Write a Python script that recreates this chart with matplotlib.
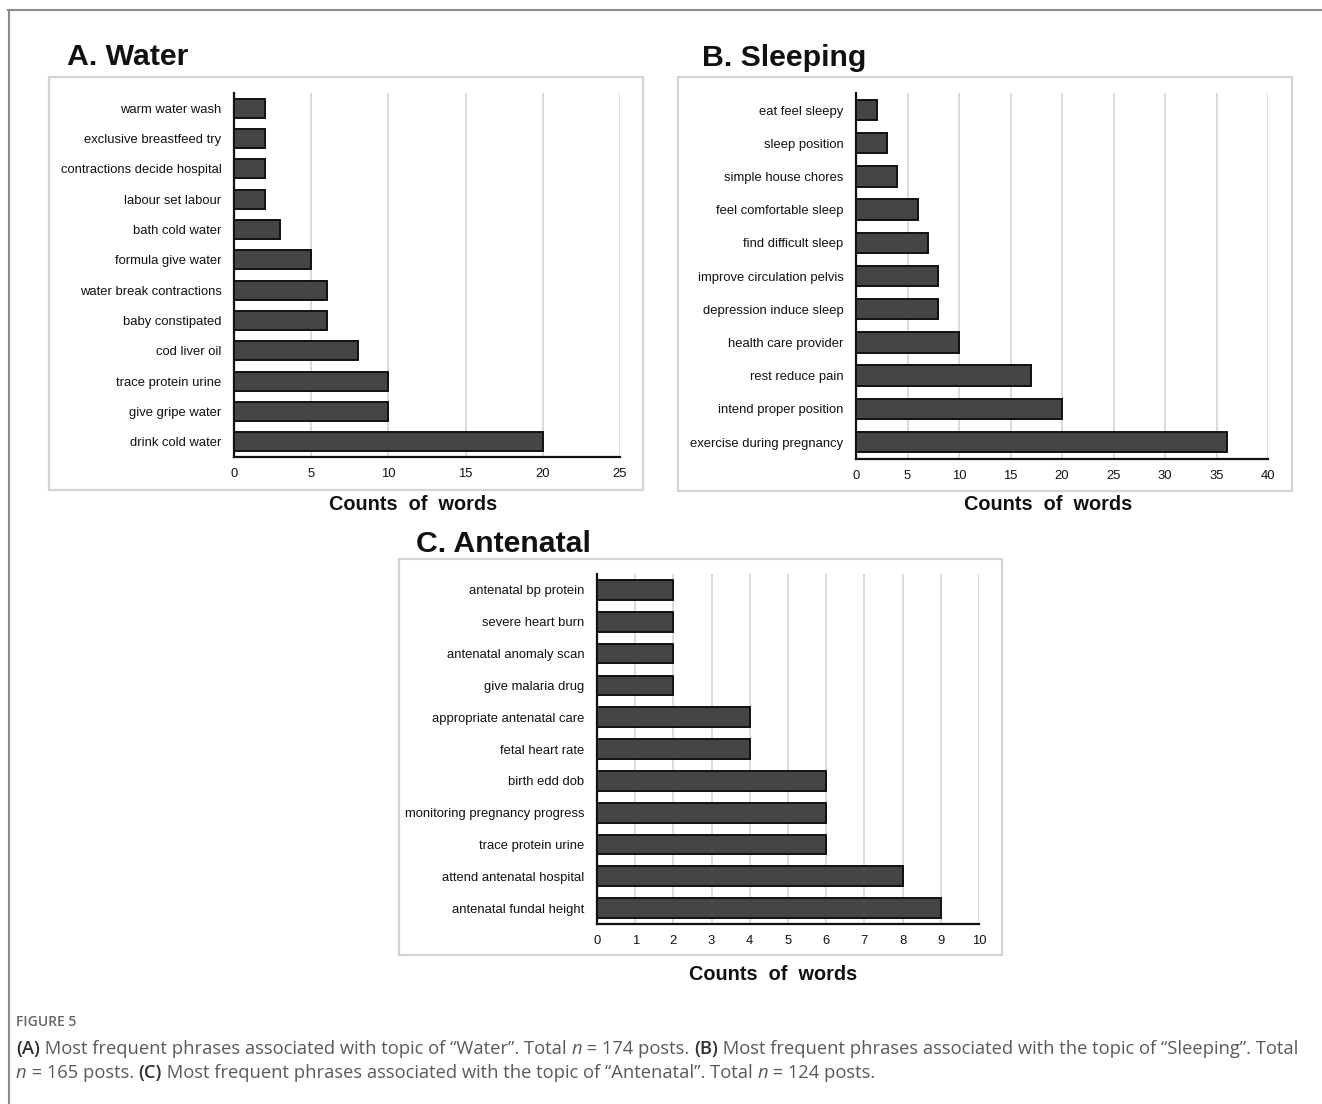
import matplotlib
matplotlib.use("Agg")
import matplotlib.pyplot as plt
from matplotlib.patches import Rectangle
from matplotlib.lines import Line2D

W, H = 1322, 1104

water_labels = ["warm water wash", "exclusive breastfeed try", "contractions decide hospital",
                "labour set labour", "bath cold water", "formula give water",
                "water break contractions", "baby constipated", "cod liver oil",
                "trace protein urine", "give gripe water", "drink cold water"]
water_values = [2, 2, 2, 2, 3, 5, 6, 6, 8, 10, 10, 20]
water_ticks = [0, 5, 10, 15, 20, 25]

sleep_labels = ["eat feel sleepy", "sleep position", "simple house chores",
                "feel comfortable sleep", "find difficult sleep", "improve circulation pelvis",
                "depression induce sleep", "health care provider", "rest reduce pain",
                "intend proper position", "exercise during pregnancy"]
sleep_values = [2, 3, 4, 6, 7, 8, 8, 10, 17, 20, 36]
sleep_ticks = [0, 5, 10, 15, 20, 25, 30, 35, 40]

ante_labels = ["antenatal bp protein", "severe heart burn", "antenatal anomaly scan",
               "give malaria drug", "appropriate antenatal care", "fetal heart rate",
               "birth edd dob", "monitoring pregnancy progress", "trace protein urine",
               "attend antenatal hospital", "antenatal fundal height"]
ante_values = [2, 2, 2, 2, 4, 4, 6, 6, 6, 8, 9]
ante_ticks = list(range(0, 11))

titles = ["A. Water", "B. Sleeping", "C. Antenatal"]
xlabel = "Counts  of  words"

fig = plt.figure(figsize=(W / 100, H / 100), dpi=100)
CF = "Liberation Sans"


def fx(x):
    return x / W


def fy(y):
    return 1 - y / H


def add_axes_px(l, t, r, b):
    return fig.add_axes([fx(l), fy(b), (r - l) / W, (b - t) / H])


def frame_px(l, t, r, b):
    fig.add_artist(Rectangle((fx(l), fy(b)), (r - l) / W, (b - t) / H,
                             transform=fig.transFigure, fill=False,
                             edgecolor="#d4d4d4", linewidth=1.6))


def panel(ax_box, frame_box, title_xy, xlab_xy, labels, values, ticks, title):
    frame_px(*frame_box)
    ax = add_axes_px(*ax_box)
    n = len(labels)
    ypos = list(range(n))
    ax.barh(ypos, values, height=0.62, color="#454545", edgecolor="#111111",
            linewidth=1.4, zorder=3)
    ax.set_ylim(n - 0.5, -0.5)
    ax.set_xlim(ticks[0], ticks[-1])
    ax.set_yticks(ypos)
    ax.set_yticklabels(labels, fontsize=9.4, family=CF, color="#111111")
    ax.set_xticks(ticks)
    ax.set_xticklabels([str(t) for t in ticks], fontsize=9.4, family=CF, color="#111111")
    ax.tick_params(axis="both", length=0)
    ax.tick_params(axis="y", pad=9)
    ax.tick_params(axis="x", pad=8)
    for s in ["top", "right"]:
        ax.spines[s].set_visible(False)
    ax.spines["left"].set_color("#111111")
    ax.spines["bottom"].set_color("#111111")
    ax.spines["left"].set_linewidth(1.6)
    ax.spines["bottom"].set_linewidth(1.6)
    ax.xaxis.grid(True, color="#d9d9d9", linewidth=1.3, zorder=0)
    ax.set_axisbelow(True)
    ax.set_facecolor("none")
    fig.text(fx(title_xy[0]), fy(title_xy[1]), title, fontsize=21.8, fontweight="bold",
             family=CF, ha="left", va="center", color="#111111")
    fig.text(fx(xlab_xy[0]), fy(xlab_xy[1]), xlabel, fontsize=14.3, fontweight="bold",
             family=CF, ha="center", va="center", color="#111111")
    return ax


panel((234, 93, 620, 457), (49, 77, 643, 490), (67, 57), (413, 505),
      water_labels, water_values, water_ticks, titles[0])
panel((856, 93.4, 1268, 458.6), (678, 77, 1292, 491), (702, 58), (1048, 505),
      sleep_labels, sleep_values, sleep_ticks, titles[1])
panel((597, 574, 979, 924), (399, 559, 1002, 955), (416, 544), (773, 975),
      ante_labels, ante_values, ante_ticks, titles[2])

# outer border (top and left only)
fig.add_artist(Line2D([fx(8), 1], [fy(10), fy(10)], transform=fig.transFigure,
                      color="#8a8a8a", linewidth=1.5))
fig.add_artist(Line2D([fx(8.5), fx(8.5)], [fy(10), 0], transform=fig.transFigure,
                      color="#8a8a8a", linewidth=1.5))

# caption
cap_font = "Open Sans"
grey = "#5a5a5a"
dark = "#2f2f2f"
fig.text(fx(16), fy(1022), "FIGURE 5", fontsize=10, family=cap_font, color="#666666",
         fontweight="semibold", ha="left", va="center")

line1 = [("(A)", dark, "normal", "semibold"),
         (" Most frequent phrases associated with topic of \u201cWater\u201d. Total ", grey, "normal", "normal"),
         ("n", grey, "italic", "normal"),
         (" = 174 posts. ", grey, "normal", "normal"),
         ("(B)", dark, "normal", "semibold"),
         (" Most frequent phrases associated with the topic of \u201cSleeping\u201d. Total", grey, "normal", "normal")]
line2 = [("n", grey, "italic", "normal"),
         (" = 165 posts. ", grey, "normal", "normal"),
         ("(C)", dark, "normal", "semibold"),
         (" Most frequent phrases associated with the topic of \u201cAntenatal\u201d. Total ", grey, "normal", "normal"),
         ("n", grey, "italic", "normal"),
         (" = 124 posts.", grey, "normal", "normal")]

pending = []


def chain(pieces, x, y, size):
    last = None
    for s, c, st, wt in pieces:
        kw = dict(fontsize=size, family=cap_font, color=c, style=st, fontweight=wt)
        if last is None:
            cur = fig.text(fx(x), fy(y), s, ha="left", va="baseline", **kw)
        else:
            cur = fig.text(0, 0, s, ha="left", va="baseline", **kw)
            pending.append((last, cur))
        last = cur


chain(line1, 16, 1054, 13.25)
chain(line2, 16, 1078, 13.25)

fig.canvas.draw()
renderer = fig.canvas.get_renderer()
for prev, cur in pending:
    bb = prev.get_window_extent(renderer)
    px, py = prev.get_transform().transform(prev.get_position())
    cur.set_position((bb.x1 / fig.bbox.width, py / fig.bbox.height))
    fig.canvas.draw()

fig.savefig("out.png", dpi=100)
